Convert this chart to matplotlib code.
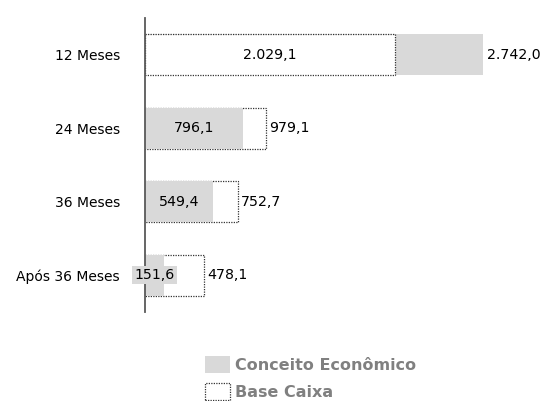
import matplotlib.pyplot as plt
from matplotlib.patches import Patch

categorias = ["12 Meses", "24 Meses", "36 Meses", "Após 36 Meses"]
conceito_economico = [2742.0, 796.1, 549.4, 151.6]
base_caixa = [2029.1, 979.1, 752.7, 478.1]

COR_CINZA = "#d9d9d9"
COR_TEXTO = "#808080"


def fmt_br(v):
    # 2029.1 -> "2.029,1"
    return f"{v:,.1f}".replace(",", "X").replace(".", ",").replace("X", ".")


plt.rcParams["font.family"] = "DejaVu Sans"

fig = plt.figure(figsize=(5.45, 4.01), dpi=100)
ax = fig.add_axes([145 / 545, 0.222, 395 / 545, 0.733])

y = list(range(len(categorias)))
altura = 0.56

barras_ce = ax.barh(y, conceito_economico, height=altura, color=COR_CINZA,
                    edgecolor="none")
barras_bc = ax.barh(y, base_caixa, height=altura, color="white",
                    edgecolor="#333333", linewidth=0.9, linestyle=(0, (1, 1)))

# a barra menor fica por cima, a maior atrás
for i in y:
    ce, bc = barras_ce[i], barras_bc[i]
    if conceito_economico[i] >= base_caixa[i]:
        ce.set_zorder(1)
        bc.set_zorder(2)
    else:
        bc.set_zorder(1)
        ce.set_zorder(2)

# rótulos: valor menor centrado na barra, maior à direita
for i in y:
    vals = [(conceito_economico[i], "ce"), (base_caixa[i], "bc")]
    menor, maior = sorted(vals)
    caixa = None
    if menor[1] == "ce":
        caixa = dict(boxstyle="square,pad=0.15", facecolor=COR_CINZA,
                     edgecolor="none")
    ax.text(menor[0] / 2, i, fmt_br(menor[0]), ha="center", va="center",
            fontsize=10.2, zorder=5, bbox=caixa)
    ax.text(maior[0] + 28, i, fmt_br(maior[0]), ha="left", va="center",
            fontsize=10.2, zorder=5)

ax.set_xlim(0, 3200)
ax.set_ylim(3.5, -0.5)
ax.set_yticks(y)
ax.set_yticklabels(categorias, fontsize=10)
ax.set_xticks([])
ax.tick_params(axis="y", length=0, pad=18)

for lado in ["top", "right", "bottom"]:
    ax.spines[lado].set_visible(False)
ax.spines["left"].set_color("#595959")
ax.spines["left"].set_linewidth(1.3)
ax.spines["left"].set_zorder(3)

alcas = [
    Patch(facecolor=COR_CINZA, edgecolor="none", label="Conceito Econômico"),
    Patch(facecolor="white", edgecolor="#333333", linewidth=0.9,
          linestyle=(0, (1, 1)), label="Base Caixa"),
]
leg = fig.legend(handles=alcas, loc="upper left",
                 bbox_to_anchor=(191 / 545, 1 - 342 / 401), frameon=False,
                 handlelength=1.57, handleheight=1.26, handletextpad=0.3,
                 labelspacing=0.6, prop={"weight": "bold", "size": 11.5})
for t in leg.get_texts():
    t.set_color(COR_TEXTO)

fig.savefig("out.png", dpi=100)
